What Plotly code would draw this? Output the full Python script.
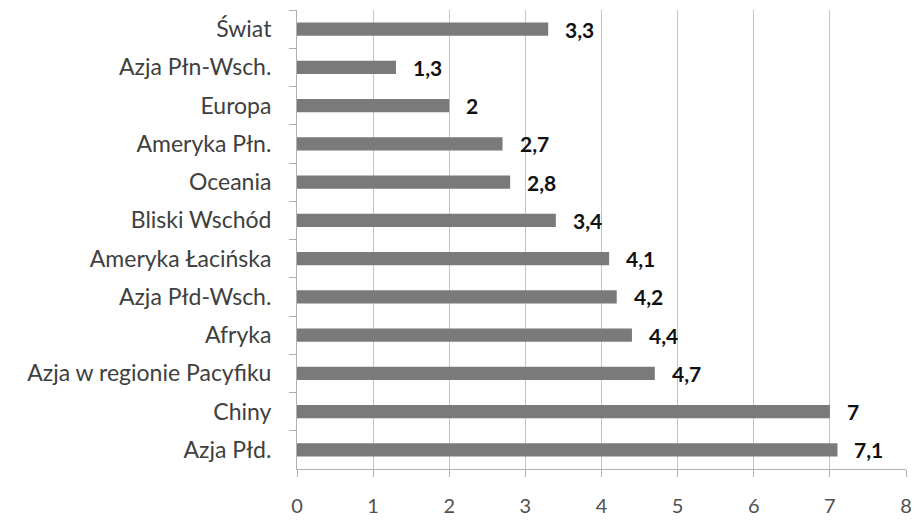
import plotly.graph_objects as go

# Regions listed top to bottom as they appear on the chart
regions = [
    "Świat", "Azja Płn-Wsch.", "Europa", "Ameryka Płn.", "Oceania",
    "Bliski Wschód", "Ameryka Łacińska", "Azja Płd-Wsch.", "Afryka",
    "Azja w regionie Pacyfiku", "Chiny", "Azja Płd.",
]
values = [3.3, 1.3, 2.0, 2.7, 2.8, 3.4, 4.1, 4.2, 4.4, 4.7, 7.0, 7.1]
x_ticks = [0, 1, 2, 3, 4, 5, 6, 7, 8]


def pl_number(v):
    s = f"{v:g}"
    return s.replace(".", ",")


value_labels = [pl_number(v) for v in values]

fig = go.Figure(
    go.Bar(
        x=values,
        y=regions,
        orientation="h",
        marker=dict(color="#7a7a7a", line=dict(width=0)),
        hoverinfo="skip",
    )
)

for v, r, lab in zip(values, regions, value_labels):
    fig.add_annotation(
        x=v, y=r, text=f"<b>{lab}</b>", showarrow=False,
        xanchor="left", yanchor="middle", xshift=15,
        font=dict(family="Lato, sans-serif", size=21, color="#111111"),
    )

fig.update_layout(
    width=915, height=522,
    margin=dict(l=297, r=9, t=10, b=53, autoexpand=False),
    paper_bgcolor="white", plot_bgcolor="white",
    bargap=0.65,
    showlegend=False,
    font=dict(family="Lato, sans-serif"),
)

fig.update_xaxes(
    range=[0, 8], tickvals=x_ticks, ticktext=[str(t) for t in x_ticks],
    showgrid=True, gridcolor="#c4c4c4", gridwidth=1,
    showline=True, linecolor="#b0b0b0", linewidth=1,
    ticks="outside", ticklen=7, tickcolor="#b0b0b0",
    ticklabelstandoff=12,
    tickfont=dict(family="Lato, sans-serif", size=20, color="#505050"),
    zeroline=False, fixedrange=True, automargin=False,
)

fig.update_yaxes(
    autorange="reversed", type="category",
    showline=True, linecolor="#b0b0b0", linewidth=1,
    ticks="outside", tickson="boundaries", ticklen=7, tickcolor="#b0b0b0",
    ticklabelstandoff=20,
    tickfont=dict(family="Lato, sans-serif", size=23, color="#404040"),
    showgrid=False, fixedrange=True, automargin=False,
)

fig.write_html("out.html")
